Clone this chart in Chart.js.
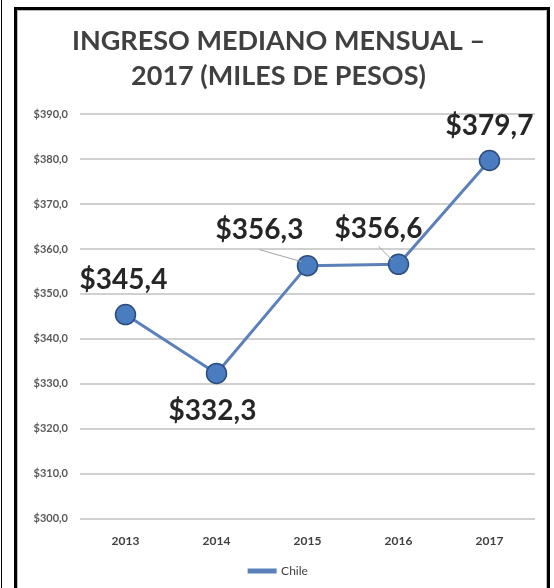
<!DOCTYPE html>
<html>
<head>
<meta charset="utf-8">
<script src="https://cdn.jsdelivr.net/npm/chart.js@4"></script>
<style>
    body { margin: 0; background: #fff; }
    canvas { display: block; }
</style>
</head>
<body>
<canvas id="chart" width="554" height="588"></canvas>
<script>
// data
const years = ["2013", "2014", "2015", "2016", "2017"];
const chileIncome = [345.4, 332.3, 356.3, 356.6, 379.7];
const yMin = 300;
const yMax = 390;

const fontFamily = "Lato, 'Open Sans', sans-serif";

function peso(v) {
    return "$" + v.toFixed(1).replace(".", ",");
}

// frame around the chart (like the screenshot border)
const framePlugin = {
    id: "frame",
    beforeDraw(chart) {
        const ctx = chart.ctx;
        ctx.save();
        ctx.fillStyle = "#fff";
        ctx.fillRect(0, 0, chart.width, chart.height);
        ctx.strokeStyle = "#000";
        ctx.lineWidth = 1;
        ctx.beginPath();
        ctx.moveTo(1.5, 0);
        ctx.lineTo(1.5, chart.height);
        ctx.stroke();
        ctx.lineWidth = 3;
        ctx.strokeRect(15.5, 8.5, 533, chart.height + 20);
        ctx.strokeStyle = "#bbb";
        ctx.lineWidth = 1;
        ctx.strokeRect(17.5, 10.5, 529, chart.height + 20);
        ctx.restore();
    }
};

// value labels, since no datalabels plugin is around
const valueLabels = {
    id: "valueLabels",
    afterDatasetsDraw(chart, args, opts) {
        const ctx = chart.ctx;
        const meta = chart.getDatasetMeta(0);
        ctx.save();
        meta.data.forEach((pt, i) => {
            const off = opts.offsets[i];
            const lx = pt.x + off[0];
            const ly = pt.y + off[1];
            if (off[2]) {
                // leader line
                ctx.strokeStyle = "#a6a6a6";
                ctx.lineWidth = 1;
                ctx.beginPath();
                ctx.moveTo(lx + off[2][0], ly + off[2][1]);
                ctx.lineTo(pt.x - 6, pt.y - 4);
                ctx.stroke();
            }
            ctx.fillStyle = "#262626";
            ctx.font = "bold 28px " + fontFamily;
            ctx.textAlign = "center";
            ctx.textBaseline = "middle";
            ctx.fillText(peso(chileIncome[i]), lx, ly);
        });
        ctx.restore();
    }
};

let ctx = document.getElementById("chart").getContext("2d");
let chart = new Chart(ctx, {
    type: "line",
    data: {
        labels: years,
        datasets: [{
            label: "Chile",
            data: chileIncome,
            borderColor: "#5b80ba",
            backgroundColor: "#5b80ba",
            borderWidth: 3,
            pointRadius: 10,
            pointHoverRadius: 10,
            pointBackgroundColor: "#4a7dc0",
            pointBorderColor: "#2c4d7e",
            pointBorderWidth: 1.5,
            tension: 0
        }]
    },
    options: {
        responsive: false,
        animation: false,
        layout: {
            padding: { left: 22, right: 19, top: 24, bottom: 1 }
        },
        scales: {
            x: {
                offset: true,
                grid: { display: false },
                border: { display: false },
                ticks: {
                    color: "#404040",
                    font: { family: fontFamily, size: 12, weight: "bold" },
                    padding: 7
                }
            },
            y: {
                min: yMin,
                max: yMax,
                grid: { color: "#d0d0d0", lineWidth: 2, drawTicks: false },
                border: { display: false },
                ticks: {
                    stepSize: 10,
                    color: "#595959",
                    padding: 12,
                    font: { family: fontFamily, size: 11, weight: "bold" },
                    callback: (v) => peso(v)
                },
                afterFit(scale) { scale.width = 58; }
            }
        },
        plugins: {
            title: {
                display: true,
                text: ["INGRESO MEDIANO MENSUAL \u2013", "2017 (MILES DE PESOS)"],
                color: "#404040",
                font: { family: fontFamily, size: 27, weight: "bold", lineHeight: 1.3 },
                padding: { top: 0, bottom: 20 }
            },
            legend: {
                position: "bottom",
                labels: {
                    boxWidth: 26,
                    boxHeight: 2,
                    color: "#404040",
                    font: { family: fontFamily, size: 12 },
                    padding: 10
                }
            },
            tooltip: { enabled: false },
            valueLabels: {
                offsets: [
                    [-2, -35],
                    [-4, 38],
                    [-48, -36, [0, 20]],
                    [-20, -35, [0, 17]],
                    [0, -35]
                ]
            }
        }
    },
    plugins: [framePlugin, valueLabels]
});
</script>
</body>
</html>
